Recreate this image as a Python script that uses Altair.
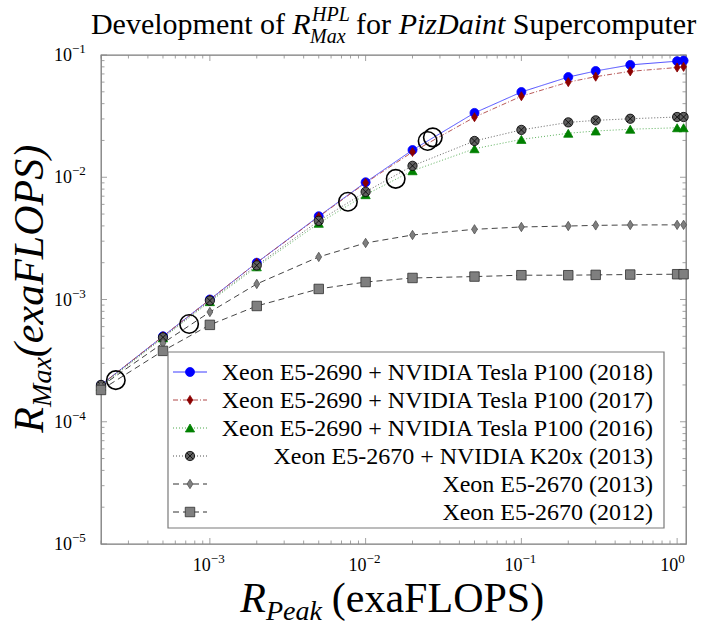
import altair as alt
import pandas as pd

# Peak performance steps (exaFLOPS) shared by every projection
x_peak = [2e-4, 5e-4, 1e-3, 2e-3, 5e-3, 1e-2, 2e-2, 5e-2, 1e-1, 2e-1, 3e-1, 5e-1, 1.0, 1.1]

series_names = [
    "Xeon E5-2690 + NVIDIA Tesla P100 (2018)",
    "Xeon E5-2690 + NVIDIA Tesla P100 (2017)",
    "Xeon E5-2690 + NVIDIA Tesla P100 (2016)",
    "Xeon E5-2670 + NVIDIA K20x (2013)",
    "Xeon E5-2670 (2013)",
    "Xeon E5-2670 (2012)",
]

rmax_p100_2018 = [2.0e-4, 5.0e-4, 1.0e-3, 2.0e-3, 4.8e-3, 9.1e-3, 1.67e-2, 3.36e-2, 4.98e-2, 6.6e-2, 7.4e-2, 8.3e-2, 8.9e-2, 9.0e-2]
rmax_p100_2017 = [2.0e-4, 5.0e-4, 1.0e-3, 2.0e-3, 4.75e-3, 9.0e-3, 1.61e-2, 3.1e-2, 4.6e-2, 6.0e-2, 6.65e-2, 7.35e-2, 7.9e-2, 8.0e-2]
rmax_p100_2016 = [1.95e-4, 4.85e-4, 9.6e-4, 1.85e-3, 4.2e-3, 7.2e-3, 1.13e-2, 1.71e-2, 2.04e-2, 2.29e-2, 2.39e-2, 2.47e-2, 2.54e-2, 2.54e-2]
rmax_k20x_2013 = [2.0e-4, 4.9e-4, 9.8e-4, 1.9e-3, 4.4e-3, 7.6e-3, 1.24e-2, 1.98e-2, 2.44e-2, 2.81e-2, 2.92e-2, 3.01e-2, 3.11e-2, 3.11e-2]
rmax_cpu_2013 = [1.95e-4, 4.4e-4, 7.9e-4, 1.34e-3, 2.23e-3, 2.9e-3, 3.37e-3, 3.75e-3, 3.92e-3, 3.99e-3, 4.04e-3, 4.07e-3, 4.08e-3, 4.08e-3]
rmax_cpu_2012 = [1.82e-4, 3.8e-4, 6.2e-4, 8.85e-4, 1.22e-3, 1.39e-3, 1.5e-3, 1.54e-3, 1.58e-3, 1.58e-3, 1.59e-3, 1.6e-3, 1.61e-3, 1.61e-3]

# Measured Top500 entries of the machine
top500_peak = [2.49e-4, 7.36e-4, 7.7e-3, 1.56e-2, 2.5e-2, 2.7e-2]
top500_rmax = [2.19e-4, 6.3e-4, 6.3e-3, 9.7e-3, 1.98e-2, 2.12e-2]

# Axis ticks (decade exponents) and minor tick multipliers
x_major_exp = [-3, -2, -1, 0]
y_major_exp = [-5, -4, -3, -2, -1]
minor_mult = [2, 3, 4, 5, 6, 7, 8, 9]

# Title / axis title pieces
title_pieces = ["Development of", "R", "HPL", "Max", "for", "PizDaint", "Supercomputer"]
xtitle_pieces = ["R", "Peak", "(exaFLOPS)"]
ytitle_pieces = ["R", "Max", "(exaFLOPS)"]

W, H = 585, 489
FONT = "'Liberation Serif', 'Times New Roman', 'DejaVu Serif', serif"
X_DOMAIN = [2e-4, 1.14]
Y_DOMAIN = [1e-5, 1e-1]

all_rmax = [rmax_p100_2018, rmax_p100_2017, rmax_p100_2016,
            rmax_k20x_2013, rmax_cpu_2013, rmax_cpu_2012]

rows = []
for name, vals in zip(series_names, all_rmax):
    for xv, yv in zip(x_peak, vals):
        rows.append({"series": name, "rpeak": xv, "rmax": yv})
df = pd.DataFrame(rows)
df_top = pd.DataFrame({"rpeak": top500_peak, "rmax": top500_rmax})

xscale = alt.Scale(type="log", domain=X_DOMAIN, nice=False)
yscale = alt.Scale(type="log", domain=Y_DOMAIN, nice=False)

line_colors = ["#3c3cff", "#b04848", "#4aa84a", "#505050", "#303030", "#303030"]
dashes = [[1, 0], [5, 2, 1, 2], [1, 2], [1, 2], [6, 4], [6, 4]]
fill_colors = ["#0000ff", "#8b0000", "#008000", "#606060", "#7f7f7f", "#7f7f7f"]
edge_colors = ["#0000ff", "#8b0000", "#008000", "#000000", "#505050", "#303030"]
diamond = "M0,-1L0.62,0L0,1L-0.62,0Z"
otimes = ("M-1,0A1,1,0,1,0,1,0A1,1,0,1,0,-1,0Z"
          "M-0.7,-0.7L0.7,0.7M-0.7,0.7L0.7,-0.7")
shapes = ["circle", diamond, "triangle-up", otimes, diamond, "square"]
sizes = [81, 90, 60, 81, 70, 81]

color_enc = alt.Color("series:N", scale=alt.Scale(domain=series_names, range=line_colors), legend=None)
dash_enc = alt.StrokeDash("series:N", scale=alt.Scale(domain=series_names, range=dashes), legend=None)
fill_enc = alt.Fill("series:N", scale=alt.Scale(domain=series_names, range=fill_colors), legend=None)
stroke_enc = alt.Stroke("series:N", scale=alt.Scale(domain=series_names, range=edge_colors), legend=None)
shape_enc = alt.Shape("series:N", scale=alt.Scale(domain=series_names, range=shapes), legend=None)
size_enc = alt.Size("series:N", scale=alt.Scale(domain=series_names, range=sizes), legend=None)

no_axis = alt.Axis(labels=False, ticks=False, domain=False, grid=False, title=None)

lines = alt.Chart(df).mark_line(strokeWidth=1, opacity=0.9).encode(
    x=alt.X("rpeak:Q", scale=xscale, axis=no_axis),
    y=alt.Y("rmax:Q", scale=yscale, axis=no_axis),
    color=color_enc, strokeDash=dash_enc, detail="series:N",
)
points = alt.Chart(df).mark_point(filled=True, opacity=1, strokeWidth=0.8).encode(
    x=alt.X("rpeak:Q", scale=xscale),
    y=alt.Y("rmax:Q", scale=yscale),
    fill=fill_enc, stroke=stroke_enc, shape=shape_enc, size=size_enc,
)
top_pts = alt.Chart(df_top).mark_point(shape="circle", filled=False, stroke="black",
                                       strokeWidth=1.6, size=340, opacity=1).encode(
    x=alt.X("rpeak:Q", scale=xscale),
    y=alt.Y("rmax:Q", scale=yscale),
)

# Inward ticks on all four sides
tick_color = "#8a8a8a"
x_major = [10.0 ** e for e in x_major_exp]
x_minor = [m * 10.0 ** e for e in range(-4, 1) for m in minor_mult
           if X_DOMAIN[0] <= m * 10.0 ** e <= X_DOMAIN[1]]
y_major = [10.0 ** e for e in y_major_exp]
y_minor = [m * 10.0 ** e for e in range(-5, -1) for m in minor_mult]

tick_layers = []
for vals, ln in [(x_major, 6), (x_minor, 3.5)]:
    d = pd.DataFrame({"rpeak": vals})
    tick_layers.append(alt.Chart(d).mark_rule(color=tick_color, strokeWidth=0.8).encode(
        x=alt.X("rpeak:Q", scale=xscale), y=alt.value(H), y2=alt.value(H - ln)))
    tick_layers.append(alt.Chart(d).mark_rule(color=tick_color, strokeWidth=0.8).encode(
        x=alt.X("rpeak:Q", scale=xscale), y=alt.value(0), y2=alt.value(ln)))
for vals, ln in [(y_major, 6), (y_minor, 3.5)]:
    d = pd.DataFrame({"rmax": vals})
    tick_layers.append(alt.Chart(d).mark_rule(color=tick_color, strokeWidth=0.8).encode(
        y=alt.Y("rmax:Q", scale=yscale), x=alt.value(0), x2=alt.value(ln)))
    tick_layers.append(alt.Chart(d).mark_rule(color=tick_color, strokeWidth=0.8).encode(
        y=alt.Y("rmax:Q", scale=yscale), x=alt.value(W), x2=alt.value(W - ln)))

# Tick labels of the form 10^e: mantissa and raised exponent
def exp_text(e):
    return ("−" if e < 0 else "") + str(abs(e))


xl = pd.DataFrame({"rpeak": x_major, "base": ["10"] * len(x_major),
                   "expo": [exp_text(e) for e in x_major_exp]})
yl = pd.DataFrame({"rmax": y_major, "base": ["10"] * len(y_major),
                   "expo": [exp_text(e) for e in y_major_exp]})
label_layers = [
    alt.Chart(xl).mark_text(align="right", baseline="alphabetic", dx=1, font=FONT,
                            fontSize=18, color="black").encode(
        x=alt.X("rpeak:Q", scale=xscale), y=alt.value(H + 27), text="base:N"),
    alt.Chart(xl).mark_text(align="left", baseline="alphabetic", dx=1, font=FONT,
                            fontSize=13, color="black").encode(
        x=alt.X("rpeak:Q", scale=xscale), y=alt.value(H + 19), text="expo:N"),
    alt.Chart(yl).mark_text(align="right", baseline="alphabetic", dy=6, font=FONT,
                            fontSize=18, color="black").encode(
        y=alt.Y("rmax:Q", scale=yscale), x=alt.value(-29), text="base:N"),
    alt.Chart(yl).mark_text(align="left", baseline="alphabetic", dy=-2, font=FONT,
                            fontSize=13, color="black").encode(
        y=alt.Y("rmax:Q", scale=yscale), x=alt.value(-29), text="expo:N"),
]

# Legend box, drawn inside the plot area
leg_df = pd.DataFrame({"series": series_names})
legend_layers = [
    alt.Chart(pd.DataFrame({"k": [0]})).mark_rect(fill="white", stroke="#7a7a7a", strokeWidth=1.2).encode(
        x=alt.value(67), x2=alt.value(563), y=alt.value(297), y2=alt.value(473))
]
for i, name in enumerate(series_names):
    row = leg_df[leg_df.series == name]
    yy = 317 + 28 * i
    legend_layers.append(alt.Chart(row).mark_rule(strokeWidth=1).encode(
        x=alt.value(72), x2=alt.value(106), y=alt.value(yy), color=color_enc, strokeDash=dash_enc))
    legend_layers.append(alt.Chart(row).mark_point(filled=True, opacity=1, strokeWidth=0.8).encode(
        x=alt.value(89), y=alt.value(yy), fill=fill_enc, stroke=stroke_enc, shape=shape_enc, size=size_enc))
    legend_layers.append(alt.Chart(row).mark_text(align="right", baseline="middle", font=FONT,
                                                  fontSize=24, color="black").encode(
        x=alt.value(552), y=alt.value(yy + 1), text="series:N"))


def piece(txt, x, y, size, italic=False, angle=0, align="center"):
    props = dict(align=align, baseline="alphabetic", font=FONT, fontSize=size, color="black")
    if italic:
        props["fontStyle"] = "italic"
    if angle:
        props["angle"] = angle
    return alt.Chart(pd.DataFrame({"t": [txt]})).mark_text(**props).encode(
        x=alt.value(x), y=alt.value(y), text="t:N")


text_layers = [
    piece(title_pieces[0], 87, -21, 30),
    piece(title_pieces[1], 200.5, -21, 30, True),
    piece(title_pieces[2], 211, -34, 20, True, align="left"),
    piece(title_pieces[3], 209, -12, 20, True, align="left"),
    piece(title_pieces[4], 272.5, -21, 30),
    piece(title_pieces[5], 351, -21, 30, True),
    piece(title_pieces[6], 503.5, -21, 30),
    piece(xtitle_pieces[0], 152, 557, 42, True),
    piece(xtitle_pieces[1], 193, 565, 28, True),
    piece(xtitle_pieces[2], 337, 557, 42),
    piece(ytitle_pieces[0], -58, 365, 42, True, 270),
    piece(ytitle_pieces[1], -50, 327, 28, True, 270),
    piece(ytitle_pieces[2], -58, 196, 42, True, 270),
]

chart = alt.layer(lines, *tick_layers, points, top_pts, *legend_layers, *label_layers,
                  *text_layers).properties(
    width=W, height=H,
    autosize=alt.AutoSizeParams(type="none"),
    padding={"left": 101, "top": 55, "right": 31, "bottom": 83},
    background="white",
).configure_view(stroke="#7a7a7a", strokeWidth=1.3)

chart.save("out.html", embed_options={"renderer": "svg", "actions": False})
